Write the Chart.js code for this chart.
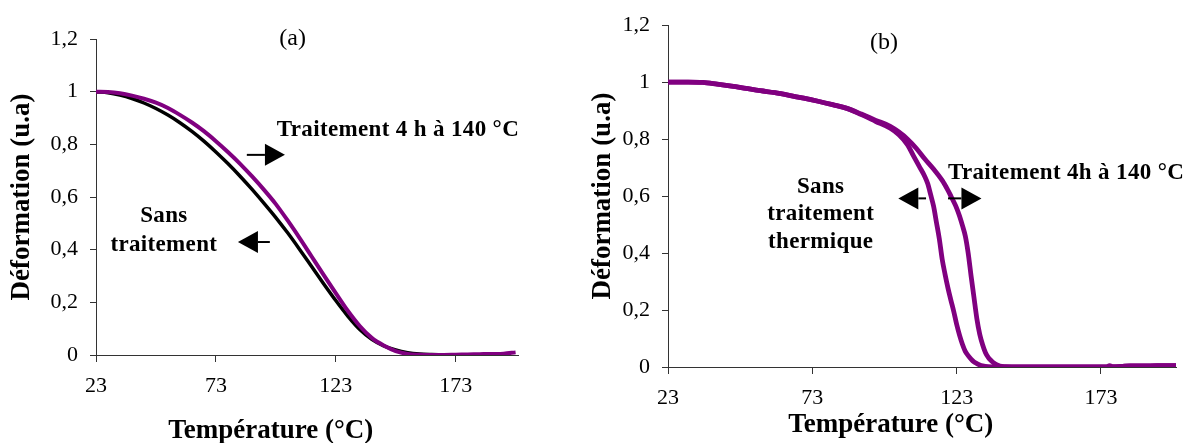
<!DOCTYPE html>
<html>
<head>
<meta charset="utf-8">
<script src="https://cdn.jsdelivr.net/npm/chart.js@4.4.1/dist/chart.umd.min.js"></script>
<style>
  body { margin: 0; background: #fff; }
  #wrapA { position: absolute; left: 0; top: 0; width: 560px; height: 443px; }
  #wrapB { position: absolute; left: 560px; top: 0; width: 630px; height: 443px; }
</style>
</head>
<body>
<div id="wrapA"><canvas id="chartA"></canvas></div>
<div id="wrapB"><canvas id="chartB"></canvas></div>
<script>
// ---- data (a) ----
const tempA_sans = [23,28,33,38,43,48,53,58,63,68,73,78,83,88,93,98,103,108,113,118,123,128,133,138,143,148,153,158,163,168,173,178,183,188,193];
const sansA = [1.000,0.996,0.987,0.974,0.957,0.936,0.911,0.882,0.849,0.812,0.771,0.727,0.680,0.630,0.577,0.522,0.463,0.400,0.335,0.270,0.207,0.148,0.097,0.060,0.035,0.019,0.009,0.004,0.002,0.001,0.001,0.001,0.001,0.002,0.003];
const tempA_trait = [23,28,33,38,43,48,53,58,63,68,73,78,83,88,93,98,103,108,113,118,123,128,133,138,143,148,153,158,163,168,173,178,183,188,193,198];
const traitA = [1.000,0.999,0.994,0.985,0.973,0.958,0.938,0.912,0.883,0.850,0.812,0.771,0.727,0.679,0.628,0.573,0.510,0.443,0.373,0.303,0.235,0.168,0.110,0.065,0.036,0.015,0.004,0.001,0.000,0.000,0.001,0.002,0.003,0.004,0.005,0.010];

// ---- data (b) ----
const tempB_sans = [23,30,35,40,45,50,55,60,65,70,75,80,85,90,95,100,103,106,108,110,112,113,114,115,116,117,118,119,120,121,122,123,124,125,126,127,128,129,130,131,132,134,137,145,155,165,175,176,177,180,183,190,195,199];
const sansB = [1.000,1.000,0.999,0.993,0.986,0.978,0.970,0.963,0.954,0.944,0.933,0.921,0.908,0.886,0.862,0.838,0.815,0.780,0.742,0.705,0.668,0.643,0.605,0.565,0.508,0.450,0.378,0.325,0.277,0.235,0.195,0.150,0.112,0.080,0.055,0.040,0.028,0.018,0.012,0.007,0.004,0.001,0.000,0.000,0.000,0.000,0.000,0.005,0.001,0.002,0.004,0.004,0.005,0.005];
const tempB_trait = [23,30,35,40,45,50,55,60,65,70,75,80,85,90,95,100,103,106,109,112,115,118,120,121,122,123,124,125,126,127,128,129,130,131,132,133,134,135,136,137,138,140,145,155,165,175,180,183,190,195,199];
const traitB = [1.000,1.000,0.999,0.993,0.986,0.978,0.970,0.963,0.954,0.944,0.933,0.921,0.908,0.888,0.866,0.845,0.825,0.800,0.768,0.730,0.695,0.655,0.620,0.600,0.580,0.558,0.530,0.497,0.460,0.400,0.320,0.245,0.170,0.115,0.078,0.050,0.033,0.022,0.013,0.007,0.003,0.001,0.000,0.000,0.000,0.000,0.002,0.004,0.004,0.005,0.005];

// ---- axes ----
const xTicks = [23, 73, 123, 173];
const yTicks = [0, 0.2, 0.4, 0.6, 0.8, 1, 1.2];
const yTickLabels = ['0', '0,2', '0,4', '0,6', '0,8', '1', '1,2'];
const xTitle = 'Température (°C)';
const yTitle = 'Déformation (u.a)';

// ---- annotations (data coordinates) ----
const notesA = [
  { text: '(a)', x: 105, y: 1.2, bold: false, size: 24 },
  { text: 'Traitement 4 h à 140 °C', x: 98.4, y: 0.855, align: 'left' },
  { text: 'Sans', x: 51.3, y: 0.526 },
  { text: 'traitement', x: 51.3, y: 0.418 }
];
const arrowsA = [
  { from: 85.9, to: 101.8, y: 0.76 },
  { from: 95.5, to: 82.2, y: 0.429 }
];
const notesB = [
  { text: '(b)', x: 97.8, y: 1.14, bold: false, size: 24 },
  { text: 'Traitement 4h à 140 °C', x: 120.0, y: 0.680, align: 'left' },
  { text: 'Sans', x: 75.9, y: 0.632 },
  { text: 'traitement', x: 75.9, y: 0.537 },
  { text: 'thermique', x: 75.9, y: 0.44 }
];
const arrowsB = [
  { from: 112.4, to: 102.8, y: 0.592 },
  { from: 120.0, to: 131.6, y: 0.592 }
];

const PURPLE = '#800080';
const SERIF = "'Liberation Serif', 'Times New Roman', serif";
Chart.defaults.font.family = SERIF;
Chart.defaults.color = '#000';

const notesPlugin = {
  id: 'notes',
  afterDraw(chart, args, opts) {
    const ctx = chart.ctx;
    const xs = chart.scales.x, ys = chart.scales.y;
    const area = chart.chartArea;
    ctx.save();
    ctx.fillStyle = '#000';
    ctx.strokeStyle = '#000';
    ctx.textBaseline = 'middle';
    opts.texts.forEach(t => {
      const size = t.size || 23;
      ctx.font = (t.bold === false ? '' : 'bold ') + size + 'px ' + SERIF;
      ctx.letterSpacing = t.bold === false ? '0px' : '0.35px';
      ctx.textAlign = t.align || 'center';
      ctx.fillText(t.text, xs.getPixelForValue(t.x), ys.getPixelForValue(t.y));
    });
    opts.arrows.forEach(a => {
      const x0 = xs.getPixelForValue(a.from), x1 = xs.getPixelForValue(a.to);
      const y = ys.getPixelForValue(a.y);
      const dir = Math.sign(x1 - x0), head = 20, half = 11;
      ctx.lineWidth = 2;
      ctx.beginPath(); ctx.moveTo(x0, y); ctx.lineTo(x1 - dir * head, y); ctx.stroke();
      ctx.beginPath();
      ctx.moveTo(x1, y);
      ctx.lineTo(x1 - dir * head, y - half);
      ctx.lineTo(x1 - dir * head, y + half);
      ctx.closePath(); ctx.fill();
    });
    // axis titles
    ctx.letterSpacing = '0px';
    ctx.font = 'bold 27px ' + SERIF;
    ctx.textAlign = 'center';
    ctx.fillText(xTitle, xs.getPixelForValue(opts.xTitleAt), area.bottom + opts.xTitleGap);
    ctx.translate(opts.yTitleX, (area.top + area.bottom) / 2);
    ctx.rotate(-Math.PI / 2);
    ctx.fillText(yTitle, 0, 0);
    ctx.restore();
  }
};

function pts(xs, ys) {
  return xs.map((x, i) => ({ x: x, y: ys[i] }));
}

function makeChart(id, datasets, cfg) {
  new Chart(document.getElementById(id), {
    type: 'line',
    plugins: [notesPlugin],
    data: { datasets: datasets },
    options: {
      responsive: true,
      maintainAspectRatio: false,
      animation: false,
      layout: { padding: { left: 0, right: cfg.padRight, top: cfg.padTop, bottom: 0 } },
      elements: { point: { radius: 0 }, line: { cubicInterpolationMode: 'monotone' } },
      scales: {
        x: {
          type: 'linear',
          min: 23,
          max: 199,
          afterBuildTicks: s => { s.ticks = xTicks.map(v => ({ value: v })); },
          afterFit: s => { s.height = cfg.xHeight; },
          ticks: { font: { size: 22 }, padding: 11, maxRotation: 0, callback: v => String(v) },
          grid: { drawOnChartArea: false, tickLength: 7, color: '#333' },
          border: { color: '#333', width: 1 }
        },
        y: {
          min: 0,
          max: 1.2,
          afterBuildTicks: s => { s.ticks = yTicks.map(v => ({ value: v })); },
          afterFit: s => { s.width = cfg.yWidth; },
          ticks: { font: { size: 22 }, padding: 12, callback: (v, i) => yTickLabels[i] },
          grid: { drawOnChartArea: false, tickLength: 6, color: '#333' },
          border: { color: '#333', width: 1 }
        }
      },
      plugins: {
        legend: { display: false },
        tooltip: { enabled: false },
        notes: cfg.notes
      }
    }
  });
}

makeChart('chartA', [
  { label: 'Traitement 4 h à 140 °C', data: pts(tempA_trait, traitA), borderColor: PURPLE, borderWidth: 4, fill: false },
  { label: 'Sans traitement', data: pts(tempA_sans, sansA), borderColor: '#000', borderWidth: 3.5, fill: false }
], {
  padRight: 42, padTop: 39, xHeight: 88, yWidth: 96,
  notes: { texts: notesA, arrows: arrowsA, xTitleAt: 95.9, xTitleGap: 76, yTitleX: 22 }
});

makeChart('chartB', [
  { label: 'Traitement 4h à 140 °C', data: pts(tempB_trait, traitB), borderColor: PURPLE, borderWidth: 4.8, fill: false },
  { label: 'Sans traitement thermique', data: pts(tempB_sans, sansB), borderColor: PURPLE, borderWidth: 4.8, fill: false }
], {
  padRight: 14, padTop: 21, xHeight: 76, yWidth: 108,
  notes: { texts: notesB, arrows: arrowsB, xTitleAt: 100.2, xTitleGap: 58, yTitleX: 43 }
});
</script>
</body>
</html>
